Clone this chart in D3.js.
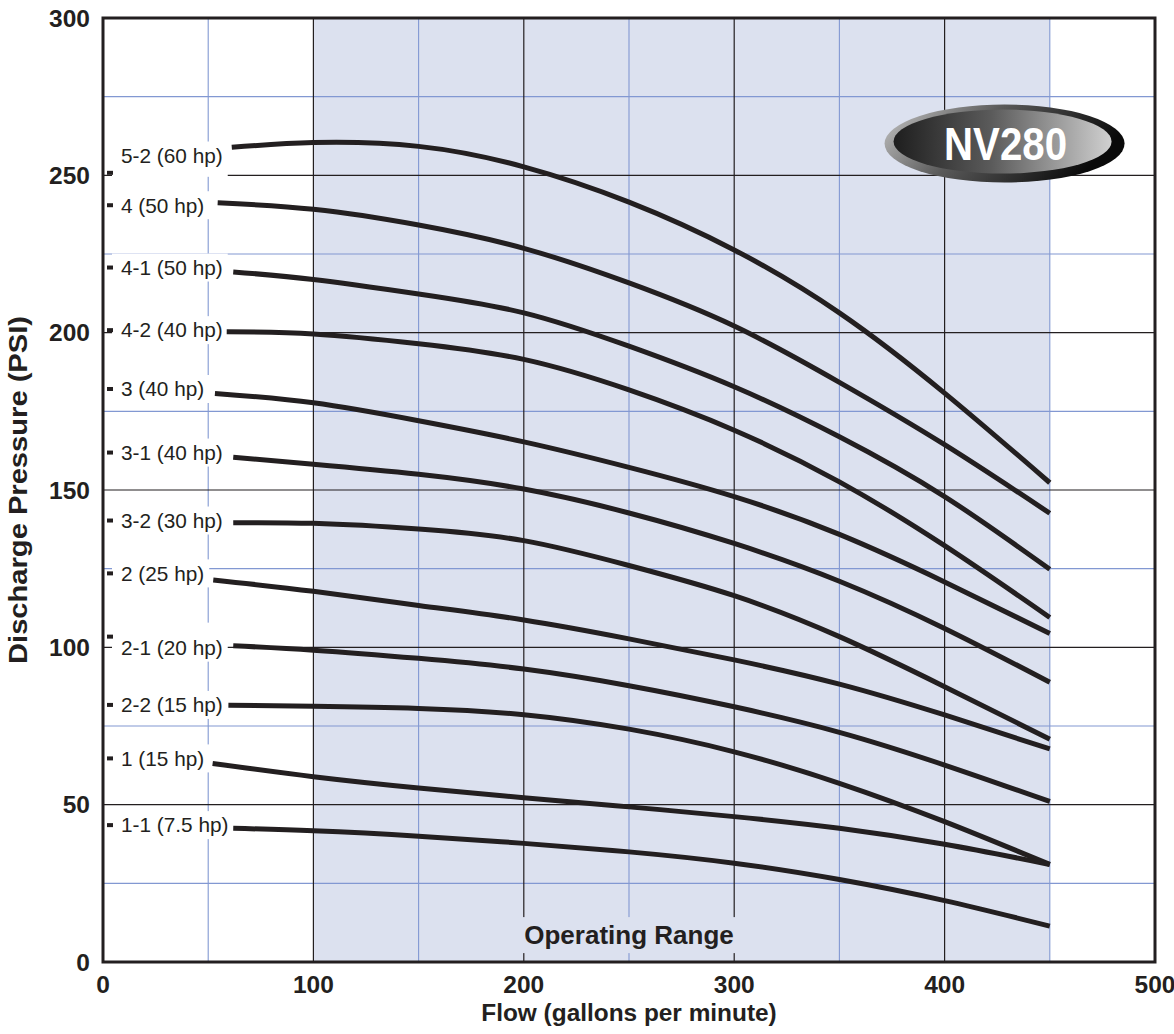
<!DOCTYPE html>
<html>
<head>
<meta charset="utf-8">
<script src="https://cdn.jsdelivr.net/npm/d3@7"></script>
<style>
  html, body { margin: 0; padding: 0; background: #ffffff; }
  svg { display: block; font-family: "Liberation Sans", Arial, Helvetica, sans-serif; }
</style>
</head>
<body>
<svg id="chart" width="1174" height="1034"></svg>
<script>
// ---------------- DATA ----------------
const flowTicks = [0, 100, 200, 300, 400, 500];
const psiTicks = [0, 50, 100, 150, 200, 250, 300];
const flowMinor = [50, 150, 250, 350, 450];
const psiMinor = [25, 75, 125, 175, 225, 275];
const operatingRange = [100, 450];

const curveLabels = ["5-2 (60 hp)", "4 (50 hp)", "4-1 (50 hp)", "4-2 (40 hp)", "3 (40 hp)", "3-1 (40 hp)",
                     "3-2 (30 hp)", "2 (25 hp)", "2-1 (20 hp)", "2-2 (15 hp)", "1 (15 hp)", "1-1 (7.5 hp)"];
const curveStartFlow = [61.2, 54.5, 61.9, 58.8, 53.2, 61.9, 61.9, 52.4, 61.9, 59.6, 52.1, 61.9];
const curveFlow = [100, 150, 200, 250, 300, 350, 400, 450];
const curveStartPsi = [258.9, 241.3, 219.3, 200.3, 180.7, 160.4, 139.6, 121.4, 100.5, 81.6, 63.1, 42.5];
const curvePsi = [
  [260.4, 259.2, 252.7, 241.5, 226.3, 206.3, 180.8, 152.3],
  [239.2, 234.2, 226.8, 215.8, 202.1, 184.2, 164.4, 142.6],
  [216.9, 212.3, 206.3, 195.7, 182.8, 166.9, 147.9, 124.8],
  [199.6, 196.5, 191.5, 181.8, 169.0, 152.6, 132.3, 109.5],
  [177.7, 172.0, 165.3, 157.2, 147.9, 135.9, 120.8, 104.4],
  [158.2, 155.0, 150.3, 142.7, 133.0, 121.0, 106.0, 88.9],
  [139.4, 137.6, 133.9, 126.0, 116.4, 103.4, 87.5, 70.8],
  [117.8, 113.3, 108.7, 102.7, 96.0, 88.3, 78.5, 67.7],
  [99.1, 96.5, 93.1, 87.8, 81.1, 73.0, 62.6, 51.0],
  [81.3, 80.6, 78.6, 74.0, 66.8, 56.8, 44.6, 31.0],
  [58.9, 55.3, 52.2, 49.3, 46.2, 42.5, 37.4, 31.0],
  [41.7, 40.0, 37.7, 35.0, 31.4, 26.2, 19.5, 11.4]
];
const labelPsi = [256.3, 240.5, 220.7, 200.8, 182.1, 161.9, 140.3, 123.5, 99.9, 81.7, 64.7, 43.5];
const markerPsi = [250.8, 240.5, 220.7, 200.8, 182.1, 161.9, 140.3, 123.5, 103.4, 81.7, 64.7, 43.5];

const xTitle = "Flow (gallons per minute)";
const yTitle = "Discharge Pressure (PSI)";
const rangeLabel = "Operating Range";
const badgeText = "NV280";

// ---------------- LAYOUT ----------------
const ink = "#231f20";
const blue = "#8298d2";
const shade = "#dce1ef";
const pLeft = 103, pRight = 1155, pTop = 18, pBottom = 962;

const svg = d3.select("#chart");
const x = d3.scaleLinear().domain([0, 500]).range([pLeft, pRight]);
const y = d3.scaleLinear().domain([0, 300]).range([pBottom, pTop]);

// defs
const defs = svg.append("defs");
const gOuter = defs.append("linearGradient").attr("id", "badgeOuter").attr("x1", 0).attr("y1", 0).attr("x2", 1).attr("y2", 0.3);
gOuter.append("stop").attr("offset", 0).attr("stop-color", "#c8c8c8");
gOuter.append("stop").attr("offset", 0.45).attr("stop-color", "#5a5a5a");
gOuter.append("stop").attr("offset", 1).attr("stop-color", "#0a0a0a");
const gInner = defs.append("linearGradient").attr("id", "badgeInner").attr("x1", 0).attr("y1", 0).attr("x2", 1).attr("y2", 0);
gInner.append("stop").attr("offset", 0).attr("stop-color", "#1e1e1e");
gInner.append("stop").attr("offset", 0.45).attr("stop-color", "#5b5b5b");
gInner.append("stop").attr("offset", 1).attr("stop-color", "#d0d0d0");

// operating range shade
svg.append("rect")
  .attr("x", x(operatingRange[0])).attr("y", pTop)
  .attr("width", x(operatingRange[1]) - x(operatingRange[0]))
  .attr("height", pBottom - pTop)
  .attr("fill", shade);

// grid
const grid = svg.append("g");
grid.append("g").selectAll("line").data(flowMinor).join("line")
  .attr("x1", d => x(d)).attr("x2", d => x(d)).attr("y1", pTop).attr("y2", pBottom)
  .attr("stroke", blue).attr("stroke-width", 1.1);
grid.append("g").selectAll("line").data(psiMinor).join("line")
  .attr("y1", d => y(d)).attr("y2", d => y(d)).attr("x1", pLeft).attr("x2", pRight)
  .attr("stroke", blue).attr("stroke-width", 1.1);
grid.append("g").selectAll("line").data(flowTicks.filter(d => d > 0 && d < 500)).join("line")
  .attr("x1", d => x(d)).attr("x2", d => x(d)).attr("y1", pTop).attr("y2", pBottom)
  .attr("stroke", ink).attr("stroke-width", 1.2);
grid.append("g").selectAll("line").data(psiTicks.filter(d => d > 0 && d < 300)).join("line")
  .attr("y1", d => y(d)).attr("y2", d => y(d)).attr("x1", pLeft).attr("x2", pRight)
  .attr("stroke", ink).attr("stroke-width", 1.2);

// Operating Range label
const rangeG = svg.append("g");
const rangeText = rangeG.append("text")
  .attr("x", x(250)).attr("y", 935).attr("dy", "0.35em")
  .attr("text-anchor", "middle").attr("font-weight", "bold").attr("font-size", 26)
  .attr("fill", ink).text(rangeLabel);
const rb = rangeText.node().getBBox();
rangeG.insert("rect", "text")
  .attr("x", rb.x - 6).attr("y", rb.y - 3).attr("width", rb.width + 12).attr("height", rb.height + 6)
  .attr("fill", shade);

// curve labels
const labG = svg.append("g");
curveLabels.forEach((lab, i) => {
  const g = labG.append("g");
  const t = g.append("text")
    .attr("x", 121).attr("y", y(labelPsi[i])).attr("dy", "0.35em")
    .attr("font-size", 20.8).attr("fill", ink).text(lab);
  const b = t.node().getBBox();
  const ly = y(labelPsi[i]), my = y(markerPsi[i]);
  const y0 = Math.min(ly, my) - 14, y1 = Math.max(ly + 14, my + 4);
  g.insert("rect", "text")
    .attr("x", 112).attr("y", y0).attr("width", b.x + b.width + 5 - 112).attr("height", y1 - y0)
    .attr("fill", "#ffffff");
  g.append("rect")
    .attr("x", 107).attr("y", my - 2).attr("width", 6).attr("height", 4)
    .attr("fill", ink);
});

// curves
const line = d3.line().x(d => x(d[0])).y(d => y(d[1])).curve(d3.curveNatural);
const curveG = svg.append("g");
curveLabels.forEach((lab, i) => {
  const pts = [[curveStartFlow[i], curveStartPsi[i]]].concat(curveFlow.map((f, j) => [f, curvePsi[i][j]]));
  curveG.append("path").datum(pts)
    .attr("d", line).attr("fill", "none")
    .attr("stroke", ink).attr("stroke-width", 5).attr("stroke-linecap", "butt");
});

// frame
svg.append("rect")
  .attr("x", pLeft).attr("y", pTop).attr("width", pRight - pLeft).attr("height", pBottom - pTop)
  .attr("fill", "none").attr("stroke", ink).attr("stroke-width", 3);

// tick labels
svg.append("g").selectAll("text").data(psiTicks).join("text")
  .attr("x", 90).attr("y", d => y(d)).attr("dy", "0.35em")
  .attr("text-anchor", "end").attr("font-weight", "bold").attr("font-size", 24.5)
  .attr("fill", ink).text(d => d);
svg.append("g").selectAll("text").data(flowTicks).join("text")
  .attr("x", d => x(d)).attr("y", 984).attr("dy", "0.35em")
  .attr("text-anchor", "middle").attr("font-weight", "bold").attr("font-size", 24.5)
  .attr("fill", ink).text(d => d);

// axis titles
svg.append("text")
  .attr("x", x(250)).attr("y", 1012).attr("dy", "0.35em")
  .attr("text-anchor", "middle").attr("font-weight", "bold").attr("font-size", 24.4)
  .attr("fill", ink).text(xTitle);
svg.append("text")
  .attr("transform", `translate(18,${y(150)}) rotate(-90)`).attr("dy", "0.35em")
  .attr("text-anchor", "middle").attr("font-weight", "bold").attr("font-size", 26)
  .attr("textLength", 348).attr("lengthAdjust", "spacingAndGlyphs")
  .attr("fill", ink).text(yTitle);

// badge
const bx = x(428.5), by = y(260.1);
const badge = svg.append("g");
badge.append("ellipse").attr("cx", bx).attr("cy", by).attr("rx", 120).attr("ry", 39)
  .attr("fill", "url(#badgeOuter)");
badge.append("ellipse").attr("cx", bx - 2).attr("cy", by - 2).attr("rx", 109).attr("ry", 32)
  .attr("fill", "url(#badgeInner)");
badge.append("text").attr("x", bx + 1).attr("y", by).attr("dy", "0.36em")
  .attr("text-anchor", "middle").attr("font-weight", "bold").attr("font-size", 46)
  .attr("textLength", 123).attr("lengthAdjust", "spacingAndGlyphs")
  .attr("fill", "#ffffff").text(badgeText);
</script>
</body>
</html>
